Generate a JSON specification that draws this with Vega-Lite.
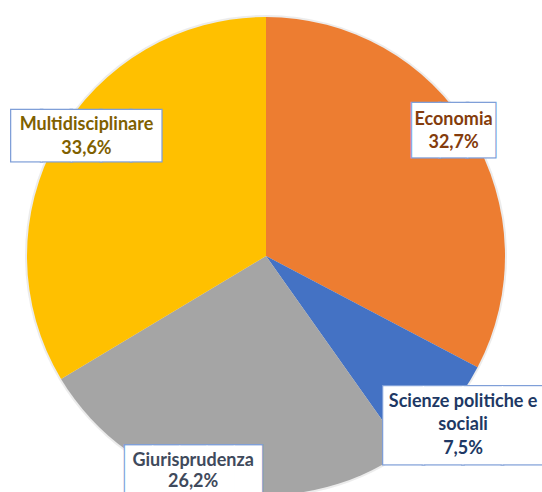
{
  "$schema": "https://vega.github.io/schema/vega-lite/v6.json",
  "width": 532,
  "height": 472,
  "autosize": {"type": "none"},
  "padding": {"left": 0, "top": 20, "right": 10, "bottom": 0},
  "background": "white",
  "view": {"stroke": null},
  "data": {"values": [
    {"cat": "Economia", "value": 32.7, "idx": 1, "label": "Economia\n32,7%"},
    {"cat": "Scienze politiche e sociali", "value": 7.5, "idx": 2, "label": "Scienze politiche e\nsociali\n7,5%"},
    {"cat": "Giurisprudenza", "value": 26.2, "idx": 3, "label": "Giurisprudenza\n26,2%"},
    {"cat": "Multidisciplinare", "value": 33.6, "idx": 4, "label": "Multidisciplinare\n33,6%"}
  ]},
  "encoding": {
    "theta": {"field": "value", "type": "quantitative", "stack": true},
    "order": {"field": "idx", "type": "quantitative"}
  },
  "layer": [
    {"mark": {"type": "arc", "outerRadius": 241, "fill": "#d0d0d0", "opacity": 0.4, "stroke": null}},
    {
      "mark": {"type": "arc", "outerRadius": 239, "stroke": null},
      "encoding": {
        "color": {"field": "cat", "type": "nominal", "legend": null,
          "scale": {"domain": ["Economia", "Scienze politiche e sociali", "Giurisprudenza", "Multidisciplinare"],
                    "range": ["#ED7D31", "#4472C4", "#A5A5A5", "#FFC000"]}}
      }
    },
    {
      "mark": {"type": "text", "font": "DejaVu Sans Mono", "fontSize": 49.5, "align": "center", "baseline": "middle", "dy": -1, "fill": "white", "stroke": "#7F9FD8", "strokeWidth": 2.6, "radius": 216.5, "thetaOffset": 0.0778},
      "encoding": {"text": {"condition": {"test": "datum.cat === 'Multidisciplinare'", "value": "▇▇▇▇▇"}, "value": ""}}
    },
    {
      "mark": {"type": "text", "font": "DejaVu Sans Mono", "fontSize": 49.5, "align": "center", "baseline": "middle", "dy": -1, "fill": "white", "radius": 216.5, "thetaOffset": 0.0778},
      "encoding": {"text": {"condition": {"test": "datum.cat === 'Multidisciplinare'", "value": "▇▇▇▇▇"}, "value": ""}}
    },
    {
      "mark": {"type": "text", "font": "Lato", "fontWeight": "bold", "fontSize": 18, "lineHeight": 24, "lineBreak": "\n", "align": "center", "baseline": "middle", "dy": -10, "color": "#7F6000", "radius": 216.5, "thetaOffset": 0.0778},
      "encoding": {"text": {"condition": {"test": "datum.cat === 'Multidisciplinare'", "field": "label"}, "value": ""}}
    },
    {
      "mark": {"type": "text", "font": "DejaVu Sans Mono", "fontSize": 45.5, "align": "center", "baseline": "middle", "dy": 2, "fill": "white", "stroke": "#7F9FD8", "strokeWidth": 2.6, "radius": 226, "thetaOffset": -0.0482},
      "encoding": {"text": {"condition": {"test": "datum.cat === 'Economia'", "value": "███"}, "value": ""}}
    },
    {
      "mark": {"type": "text", "font": "DejaVu Sans Mono", "fontSize": 45.5, "align": "center", "baseline": "middle", "dy": 2, "fill": "white", "radius": 226, "thetaOffset": -0.0482},
      "encoding": {"text": {"condition": {"test": "datum.cat === 'Economia'", "value": "███"}, "value": ""}}
    },
    {
      "mark": {"type": "text", "font": "Lato", "fontWeight": "bold", "fontSize": 18, "lineHeight": 23, "lineBreak": "\n", "align": "center", "baseline": "middle", "dy": -10, "color": "#843C0C", "radius": 226, "thetaOffset": -0.0482},
      "encoding": {"text": {"condition": {"test": "datum.cat === 'Economia'", "field": "label"}, "value": ""}}
    },
    {
      "mark": {"type": "text", "font": "DejaVu Sans Mono", "fontSize": 65.6, "align": "center", "baseline": "middle", "dy": 3, "fill": "white", "stroke": "#7F9FD8", "strokeWidth": 2.6, "radius": 259.6, "thetaOffset": -0.0108},
      "encoding": {"text": {"condition": {"test": "datum.cat === 'Scienze politiche e sociali'", "value": "████"}, "value": ""}}
    },
    {
      "mark": {"type": "text", "font": "DejaVu Sans Mono", "fontSize": 65.6, "align": "center", "baseline": "middle", "dy": 3, "fill": "white", "radius": 259.6, "thetaOffset": -0.0108},
      "encoding": {"text": {"condition": {"test": "datum.cat === 'Scienze politiche e sociali'", "value": "████"}, "value": ""}}
    },
    {
      "mark": {"type": "text", "font": "Lato", "fontWeight": "bold", "fontSize": 18, "lineHeight": 23.5, "lineBreak": "\n", "align": "center", "baseline": "middle", "dy": -23, "color": "#203864", "radius": 259.6, "thetaOffset": -0.0108},
      "encoding": {"text": {"condition": {"test": "datum.cat === 'Scienze politiche e sociali'", "field": "label"}, "value": ""}}
    },
    {
      "mark": {"type": "text", "font": "DejaVu Sans Mono", "fontSize": 45.2, "align": "center", "baseline": "middle", "dy": 4, "fill": "white", "stroke": "#7F9FD8", "strokeWidth": 2.6, "radius": 226, "thetaOffset": 0.1208},
      "encoding": {"text": {"condition": {"test": "datum.cat === 'Giurisprudenza'", "value": "█████"}, "value": ""}}
    },
    {
      "mark": {"type": "text", "font": "DejaVu Sans Mono", "fontSize": 45.2, "align": "center", "baseline": "middle", "dy": 4, "fill": "white", "radius": 226, "thetaOffset": 0.1208},
      "encoding": {"text": {"condition": {"test": "datum.cat === 'Giurisprudenza'", "value": "█████"}, "value": ""}}
    },
    {
      "mark": {"type": "text", "font": "Lato", "fontWeight": "bold", "fontSize": 18, "lineHeight": 21, "lineBreak": "\n", "align": "center", "baseline": "middle", "dy": -9, "color": "#3F4A5C", "radius": 226, "thetaOffset": 0.1208},
      "encoding": {"text": {"condition": {"test": "datum.cat === 'Giurisprudenza'", "field": "label"}, "value": ""}}
    }
  ]
}
